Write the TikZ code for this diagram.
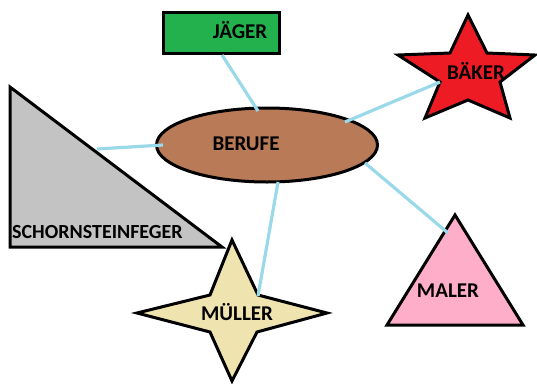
\documentclass[tikz,border=0pt]{standalone}
\usepackage{fontspec}
\setmainfont{Carlito}
\usetikzlibrary{shapes.geometric}
\definecolor{lnk}{RGB}{153,217,234}
\definecolor{jgreen}{RGB}{34,177,76}
\definecolor{bred}{RGB}{237,28,36}
\definecolor{brn}{RGB}{185,122,87}
\definecolor{gry}{RGB}{195,195,195}
\definecolor{crm}{RGB}{239,228,176}
\definecolor{pnk}{RGB}{255,174,201}
\tikzset{
  shapeline/.style={draw=black,line width=3pt,line join=miter},
  lbl/.style={font=\bfseries\fontsize{21}{21}\selectfont,inner sep=0pt},
  link/.style={draw=lnk,line width=3.2pt}
}
\begin{document}
\begin{tikzpicture}[x=1pt,y=-1pt]
\useasboundingbox (0,0) rectangle (537,383);
% shapes
\path[shapeline,fill=jgreen] (163,12) rectangle (279,53);
\path[shapeline,fill=bred] (468,15) -- (487,53) -- (535,55) -- (500,82) -- (510,118) -- (468,100) -- (425,118) -- (440,82) -- (398,55) -- (450,53) -- cycle;
\path[shapeline,fill=gry] (10,87) -- (10,247) -- (222,247) -- cycle;
\path[shapeline,fill=crm] (232,240) -- (258,295) -- (327,313) -- (257,332) -- (232,381) -- (210,332) -- (137,313) -- (210,295) -- cycle;
\path[shapeline,fill=pnk] (455,215) -- (523,325) -- (387,325) -- cycle;
\node[ellipse,shapeline,fill=brn,minimum width=221pt,minimum height=74pt,inner sep=0pt] (berufe) at (267,145) {};
% texts
\node[lbl] (tj) at (240,30) {JÄGER};
\node[lbl] (tb) at (476,71) {BÄKER};
\node[lbl] (tr) at (246,144) {BERUFE};
\node[lbl,font=\bfseries\fontsize{20}{20}\selectfont,anchor=west] (ts) at (12,232) {SCHORNSTEINFEGER};
\node[lbl] (tm) at (237,312) {MÜLLER};
\node[lbl] (tl) at (448,291) {MALER};
% link end points
\coordinate (jA) at (222,55);
\coordinate (jB) at (258,111);
\coordinate (bA) at (345,122);
\coordinate (bB) at (440,82);
\coordinate (sA) at (163,145);
\coordinate (sB) at (97,149);
\coordinate (mA) at (278,182);
\coordinate (mB) at (258,296);
\coordinate (lA) at (365,163);
\coordinate (lB) at (448,233);
\draw[link] (jA) -- (jB);
\draw[link] (bA) -- (bB);
\draw[link] (sA) -- (sB);
\draw[link] (mA) -- (mB);
\draw[link] (lA) -- (lB);
\end{tikzpicture}
\end{document}
